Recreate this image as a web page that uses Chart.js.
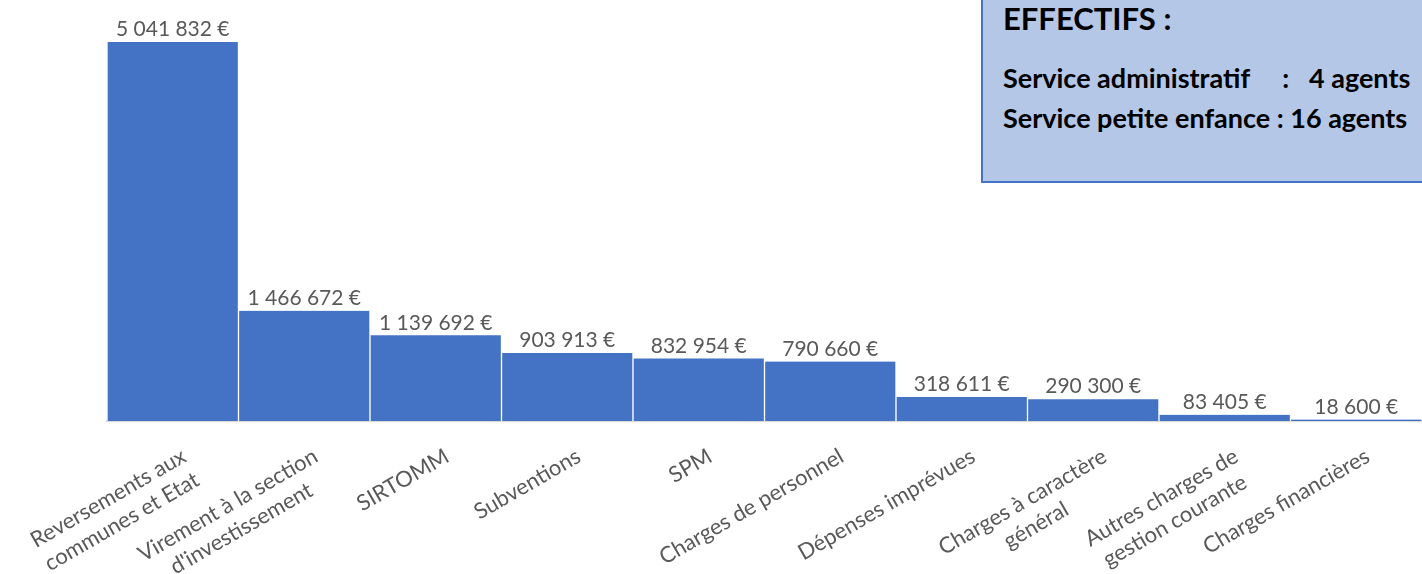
<!DOCTYPE html>
<html>
<head>
<meta charset="utf-8">
<script src="https://cdn.jsdelivr.net/npm/chart.js@4"></script>
<style>
  body { margin: 0; background: #fff; }
  #wrap { position: relative; width: 1422px; height: 574px; overflow: hidden; }
  #box {
    position: absolute; left: 981px; top: -2px; width: 460px; height: 185px;
    background: #b4c7e7; border: 2px solid #4472c4; box-sizing: border-box;
    font-family: Lato, "Open Sans", sans-serif; font-weight: bold; color: #000;
    padding-left: 20px;
  }
  #box h1 { margin: -4px 0 0 0; font-size: 31px; line-height: 44px; }
  #box p { margin: 0; font-size: 27px; line-height: 40px; white-space: pre; }
</style>
</head>
<body>
<div id="wrap">
  <canvas id="chart" width="1422" height="574"></canvas>
  <div id="box">
    <h1>EFFECTIFS :</h1>
    <p style="margin-top:18px">Service administratif     :   4 agents</p>
    <p>Service petite enfance : 16 agents</p>
  </div>
</div>
<script>
const categories = [
  ['Reversements aux', 'communes et Etat'],
  ['Virement à la section', "d'investissement"],
  ['SIRTOMM'],
  ['Subventions'],
  ['SPM'],
  ['Charges de personnel'],
  ['Dépenses imprévues'],
  ['Charges à caractère', 'général'],
  ['Autres charges de', 'gestion courante'],
  ['Charges financières']
];
const montants = [5041832, 1466672, 1139692, 903913, 832954, 790660, 318611, 290300, 83405, 18600];

const FONT = 'Lato, "Open Sans", sans-serif';

function euros(v) {
  return v.toString().replace(/\B(?=(\d{3})+(?!\d))/g, ' ') + ' €';
}

// value labels above bars
const valueLabels = {
  id: 'valueLabels',
  afterDatasetsDraw(chart) {
    const ctx = chart.ctx;
    const meta = chart.getDatasetMeta(0);
    ctx.save();
    ctx.font = '21px ' + FONT;
    ctx.fillStyle = '#595959';
    ctx.textAlign = 'center';
    ctx.textBaseline = 'bottom';
    meta.data.forEach((bar, i) => {
      ctx.fillText(euros(montants[i]), bar.x, bar.y - 2);
    });
    ctx.restore();
  }
};

// rotated category labels, lines centred like Excel does
const catLabels = {
  id: 'catLabels',
  afterDraw(chart) {
    const ctx = chart.ctx;
    const xs = chart.scales.x;
    const lh = 27;
    ctx.save();
    ctx.font = '22px ' + FONT;
    ctx.fillStyle = '#595959';
    ctx.textAlign = 'center';
    ctx.textBaseline = 'top';
    categories.forEach((lines, i) => {
      const w = Math.max(...lines.map(l => ctx.measureText(l).width));
      const x = xs.getPixelForTick(i) + 6;
      ctx.save();
      ctx.translate(x, xs.top + 24);
      ctx.rotate(-30 * Math.PI / 180);
      lines.forEach((l, j) => ctx.fillText(l, -w / 2, j * lh));
      ctx.restore();
    });
    ctx.restore();
  }
};

const ctx = document.getElementById('chart').getContext('2d');
const chart = new Chart(ctx, {
  type: 'bar',
  data: {
    labels: categories,
    datasets: [{
      data: montants,
      backgroundColor: '#4472c4',
      borderColor: '#ffffff',
      borderWidth: {left: 1, right: 1, top: 0, bottom: 0},
      barPercentage: 1,
      categoryPercentage: 1
    }]
  },
  options: {
    responsive: false,
    animation: false,
    layout: {padding: {left: 107, right: 0, top: 0, bottom: 0}},
    plugins: {legend: {display: false}, tooltip: {enabled: false}},
    scales: {
      x: {
        grid: {display: false, drawTicks: false},
        border: {display: true, color: '#d9d9d9', width: 2},
        ticks: {display: false},
        afterFit(scale) { scale.height = 153; }
      },
      y: {
        display: false,
        min: 0,
        max: 5600000
      }
    }
  },
  plugins: [valueLabels, catLabels]
});
</script>
</body>
</html>
